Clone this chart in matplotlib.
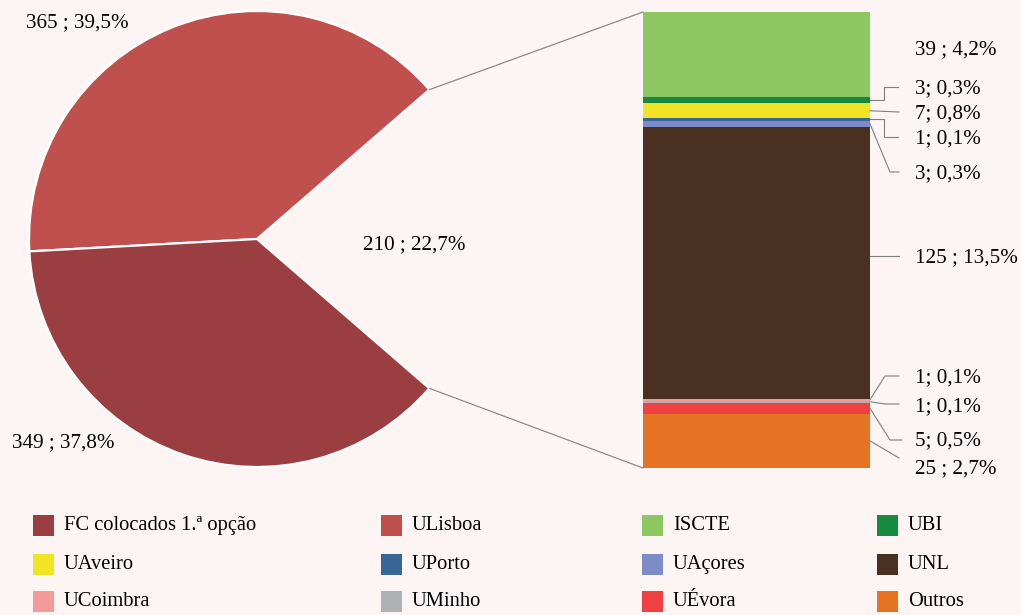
import matplotlib
matplotlib.use("Agg")
import matplotlib.pyplot as plt
from matplotlib.patches import Rectangle, ConnectionPatch
import numpy as np

# ---------------- data ----------------
pie_labels = ["FC colocados 1.ª opção", "ULisboa"]
pie_values = [349, 365]
pie_texts = ["349 ; 37,8%", "365 ; 39,5%"]
other_total = 210
other_text = "210 ; 22,7%"

bar_labels = ["ISCTE", "UBI", "UAveiro", "UPorto", "UAçores", "UNL",
              "UCoimbra", "UMinho", "UÉvora", "Outros"]
bar_values = [39, 3, 7, 1, 3, 125, 1, 1, 5, 25]
bar_texts = ["39 ; 4,2%", "3; 0,3%", "7; 0,8%", "1; 0,1%", "3; 0,3%",
             "125 ; 13,5%", "1; 0,1%", "1; 0,1%", "5; 0,5%", "25 ; 2,7%"]

# ---------------- style ----------------
pie_colors = ["#9B3E41", "#C0504E"]
bar_colors = ["#8CC762", "#178A40", "#F0E424", "#376598", "#7B8CC8",
              "#4A3020", "#F49A9A", "#AFB2B4", "#EE4242", "#E77425"]
bg = "#FDF4F4"
line_c = "#808080"
W, H = 1021, 615
plt.rcParams['font.family'] = ['Liberation Serif', 'DejaVu Serif']
FS = 15.2
LFS = 14.8
DY = 1.5  # small vertical text nudge

fig = plt.figure(figsize=(W / 100, H / 100), dpi=100, facecolor=bg)

def frac(x, y, w, h):
    return [x / W, (H - y - h) / H, w / W, h / H]

# pie axes
axp = fig.add_axes(frac(29, 11, 456, 456))
axp.set_facecolor("none")
share = other_total / (other_total + sum(pie_values))
half = 180 * share
vals = [other_total, pie_values[1], pie_values[0]]
cols = ["none", pie_colors[1], pie_colors[0]]
wedges, _ = axp.pie(vals, colors=cols, startangle=-half, counterclock=True,
                    radius=1, wedgeprops=dict(edgecolor="white", linewidth=1.6))
wedges[0].set_edgecolor("none")
axp.set_xlim(-1, 1)
axp.set_ylim(-1, 1)
axp.set_aspect("equal")
axp.axis("off")

# bar axes
axb = fig.add_axes(frac(643, 12, 227, 456))
axb.set_facecolor("none")
bottom = 0
seg_centers = []
for v, c in zip(reversed(bar_values), reversed(bar_colors)):
    axb.bar(0, v, width=1, bottom=bottom, color=c, edgecolor="none")
    seg_centers.append(bottom + v / 2)
    bottom += v
seg_centers = seg_centers[::-1]
axb.set_xlim(-0.5, 0.5)
axb.set_ylim(0, sum(bar_values))
axb.axis("off")

# connection lines pie -> bar
ang = np.deg2rad(half)
for sgn, yb in [(1, sum(bar_values)), (-1, 0)]:
    con = ConnectionPatch(xyA=(np.cos(ang), sgn * np.sin(ang)), coordsA=axp.transData,
                          xyB=(-0.5, yb), coordsB=axb.transData,
                          color=line_c, lw=0.8)
    fig.add_artist(con)

# overlay axes in pixel coordinates
axo = fig.add_axes([0, 0, 1, 1])
axo.set_xlim(0, W)
axo.set_ylim(H, 0)
axo.axis("off")
axo.set_facecolor("none")

# pie labels
axo.text(63, 441 + DY, pie_texts[0], fontsize=FS, ha="center", va="center")
axo.text(77, 21 + DY, pie_texts[1], fontsize=FS, ha="center", va="center")
axo.text(414, 243 + DY, other_text, fontsize=FS, ha="center", va="center")

# bar labels with leader lines
def seg_px(yv):
    _, yd = axb.transData.transform((0.5, yv))
    return H - yd

label_y = [48, 87, 112, 137, 172, 256, 376, 405, 439, 467]
leaders = [
    None,
    [(884, None), (884, 87), (898, 87)],
    [(899, 112)],
    [(884, None), (884, 137), (898, 137)],
    [(890, 172), (899, 172)],
    "flat",
    [(885, 376), (899, 376)],
    [(885, 404), (899, 404)],
    [(890, 440), (902, 440)],
    [(899, 458)],
]
for txt, ty, yc, ld in zip(bar_texts, label_y, seg_centers, leaders):
    axo.text(915, ty + DY, txt, fontsize=FS, ha="left", va="center")
    if ld is None:
        continue
    ys = seg_px(yc)
    if ld == "flat":
        xs_, ys_ = [870, 899], [ty, ty]
    else:
        xs_, ys_ = [870], [ys]
        for px, py in ld:
            xs_.append(px)
            ys_.append(ys if py is None else py)
    axo.plot(xs_, ys_, color=line_c, lw=0.8, solid_joinstyle="miter")

# legend (row-wise, 4 columns)
leg_labels = pie_labels + bar_labels
leg_colors = pie_colors + bar_colors
col_x = [33, 381, 642, 877]
row_y = [525, 564, 601]
box = 21
for i, (lab, c) in enumerate(zip(leg_labels, leg_colors)):
    r, cc = divmod(i, 4)
    x, y = col_x[cc], row_y[r]
    axo.add_patch(Rectangle((x, y - box / 2), box, box, facecolor=c, edgecolor="none"))
    axo.text(x + 31, y + 0.5, lab, fontsize=LFS, ha="left", va="center")

fig.savefig("out.png", dpi=100, facecolor=bg)
